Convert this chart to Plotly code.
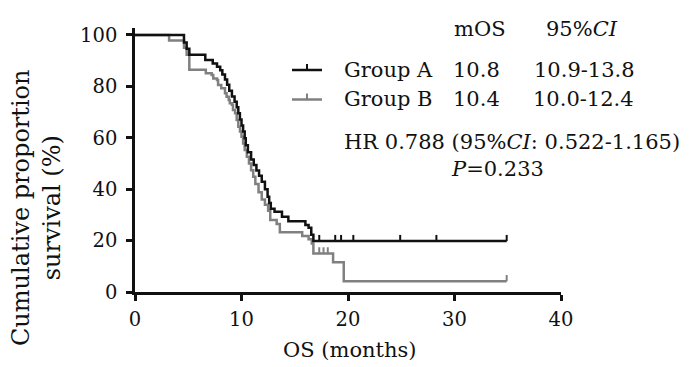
import plotly.graph_objects as go

# ---- data ----
time_a = [0, 4.6, 4.85, 5.1, 6.6, 7.3, 7.7, 8.0, 8.2, 8.45, 8.65, 8.85, 9.1, 9.35, 9.55,
          9.7, 9.85, 10.0, 10.15, 10.3, 10.4, 10.6, 10.9, 11.15, 11.4, 11.65, 11.9, 12.2,
          12.45, 12.6, 12.75, 13.1, 13.8, 14.4, 16.0, 16.3, 16.55, 16.75, 34.9]
surv_a = [100, 97.1, 94.6, 92.3, 90.3, 88.9, 87.6, 86.3, 84.6, 82.7, 80.6, 78.3, 76.1, 74.0, 71.9,
          69.5, 67.1, 64.8, 62.4, 59.8, 57.1, 54.4, 51.5, 49.4, 47.3, 45.2, 42.9, 40.0,
          37.1, 34.6, 32.4, 31.2, 29.3, 27.5, 26.1, 25.0, 22.3, 19.8, 19.8]
cens_a_t = [17.3, 18.8, 19.35, 20.5, 24.9, 28.3, 34.9]
cens_a_s = [19.8] * 7

time_b = [0, 3.2, 4.6, 4.85, 5.1, 6.65, 7.2, 7.35, 7.7, 7.8, 8.1, 8.45, 8.6, 8.8, 8.9, 9.1,
          9.2, 9.4, 9.55, 9.7, 9.86, 10.0, 10.15, 10.3, 10.5, 10.7, 10.9, 11.1, 11.3, 11.6,
          11.9, 12.2, 12.5, 12.7, 13.3, 13.6, 15.7, 16.3, 16.6, 16.75, 18.6, 19.6, 34.9]
surv_b = [100, 97.8, 95.0, 92.3, 86.5, 85.1, 84.4, 83.1, 82.5, 80.5, 79.3, 77.3, 76.0, 74.7, 73.4, 72.8,
          70.8, 69.5, 66.9, 64.3, 62.4, 60.4, 57.8, 55.2, 52.6, 50.0, 47.4, 44.8, 42.0, 38.8,
          36.0, 33.9, 31.6, 28.0, 26.5, 23.2, 21.8, 20.5, 18.9, 15.0, 11.6, 4.2, 4.2]
cens_b_t = [17.3, 17.7, 18.1, 34.9]
cens_b_s = [15.0, 15.0, 15.0, 4.2]

x_ticks = [0, 10, 20, 30, 40]
y_ticks = [0, 20, 40, 60, 80, 100]

BLACK = "#111111"
GRAY = "#808080"
FONT = "DejaVu Serif"

fig = go.Figure()


def add_group(t, s, ct, cs, color):
    fig.add_trace(go.Scatter(x=t, y=s, mode="lines", line=dict(color=color, width=2.5, shape="hv"),
                             hoverinfo="skip", showlegend=False))
    fig.add_trace(go.Scatter(x=ct, y=cs, mode="markers", marker=dict(size=1, color=color, opacity=0),
                             error_y=dict(type="data", symmetric=False, array=[2.4] * len(ct),
                                          arrayminus=[0] * len(ct), width=0, thickness=2, color=color),
                             hoverinfo="skip", showlegend=False))


add_group(time_b, surv_b, cens_b_t, cens_b_s, GRAY)
add_group(time_a, surv_a, cens_a_t, cens_a_s, BLACK)

# page body has an 8px margin: compensate so the plot lands where the reference has it
OFF = 8
WIN_W, WIN_H = 700, 367
W, H = WIN_W - OFF, WIN_H - OFF
X0, X1, Y0, Y1 = 135, 561, 292, 28  # plot box in window pixels
L, R, T, B = X0 - OFF, WIN_W - X1, Y1 - OFF, WIN_H - Y0
pw, ph = X1 - X0, Y0 - Y1


def px(x):
    return (x - X0) / pw


def py(y):
    return (Y0 - y) / ph


axis_common = dict(showline=True, linecolor=BLACK, linewidth=2.5, ticks="outside", ticklen=6,
                   tickwidth=2.5, tickcolor=BLACK, showgrid=False, zeroline=False,
                   tickfont=dict(family=FONT, size=19.5, color=BLACK))

fig.update_layout(
    width=W, height=H, margin=dict(l=L, r=R, t=T, b=B),
    paper_bgcolor="white", plot_bgcolor="white",
    xaxis=dict(range=[0, 40], tickvals=x_ticks, ticklabelstandoff=2, **axis_common),
    yaxis=dict(range=[0, 102.7], tickvals=y_ticks, ticklabelstandoff=5, **axis_common),
)

# legend glyphs
for color, yy in [(BLACK, 70), (GRAY, 99.5)]:
    fig.add_shape(type="line", xref="paper", yref="paper", x0=px(292), x1=px(322), y0=py(yy), y1=py(yy),
                  line=dict(color=color, width=2.5))
    fig.add_shape(type="line", xref="paper", yref="paper", x0=px(307), x1=px(307), y0=py(yy), y1=py(yy - 6),
                  line=dict(color=color, width=2))


def ann(text, x, y, xanchor="center", size=21, angle=0):
    fig.add_annotation(text=text, x=px(x), y=py(y), xref="paper", yref="paper", showarrow=False,
                       xanchor=xanchor, yanchor="middle", textangle=angle,
                       font=dict(family=FONT, size=size, color=BLACK))


ann("mOS", 480, 29)
ann("95%<i>CI</i>", 582, 29)
ann("Group A", 342, 70, xanchor="left")
ann("10.8", 476, 70)
ann("10.9-13.8", 584, 70)
ann("Group B", 342, 99, xanchor="left")
ann("10.4", 476, 99)
ann("10.0-12.4", 583, 99)
ann("HR 0.788 (95%<i>CI</i>: 0.522-1.165)", 342, 142, xanchor="left")
ann("<i>P</i>=0.233", 497, 169)
ann("Cumulative proportion<br>survival (%)", 36, 208, size=24, angle=-90)
ann("OS (months)", 350, 350, size=21)

fig.write_html("out.html")
